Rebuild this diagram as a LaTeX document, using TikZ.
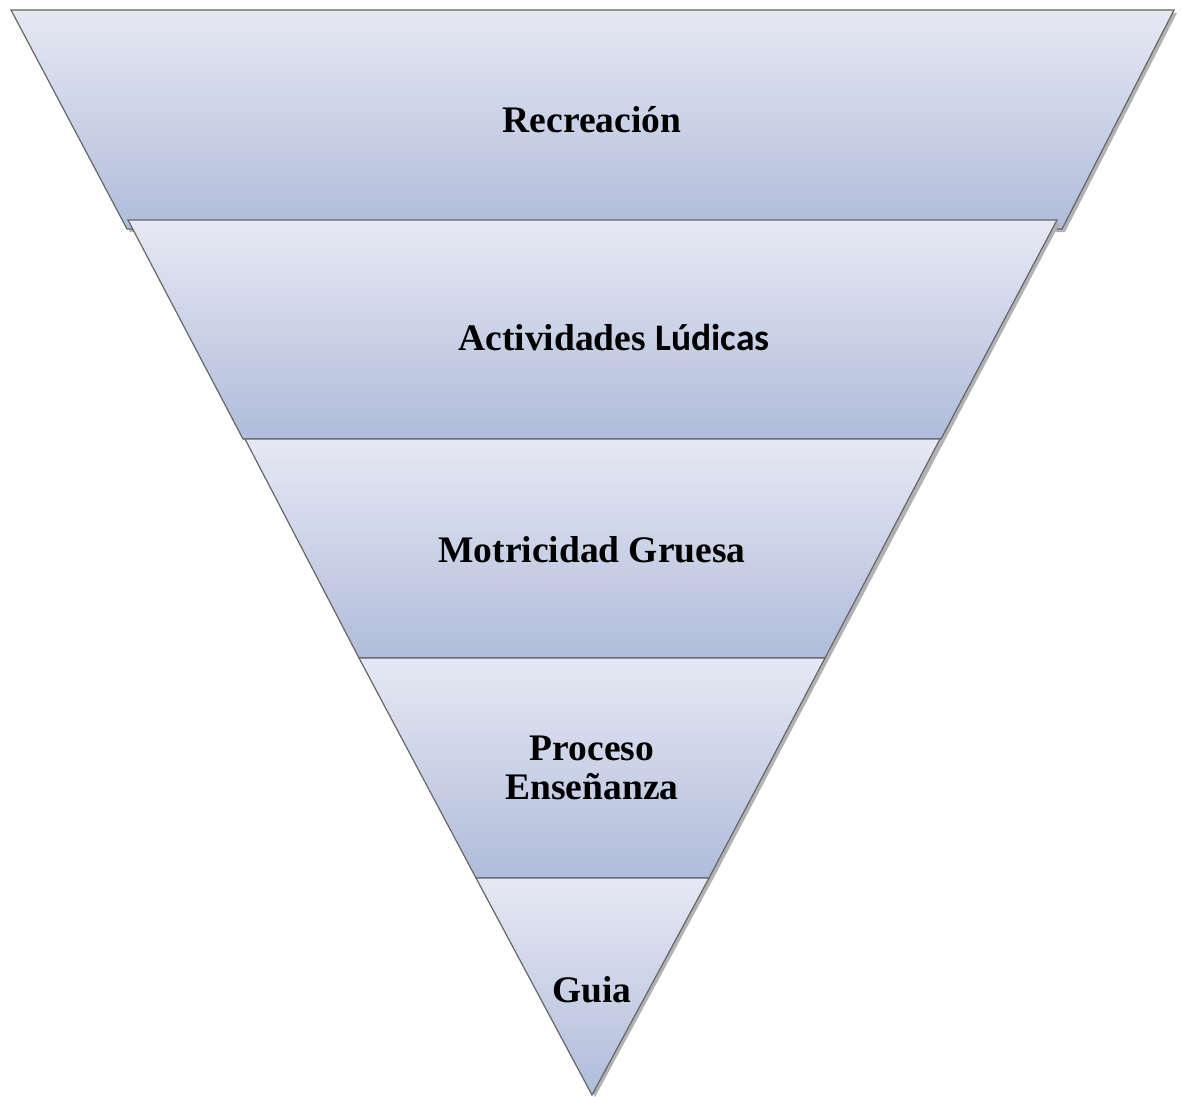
\documentclass[tikz,border=0pt]{standalone}
\usepackage{fontspec}
\setmainfont{Liberation Serif}
\newfontfamily\calib{Carlito}
\tikzset{
  band/.style={draw=black!60, line width=1.2pt, top color=bandtop, bottom color=bandbot, line join=miter},
  shad/.style={fill=black!30, draw=none},
  lbl/.style={font=\fontsize{37.5}{42}\selectfont\bfseries, align=center, text=black}
}
\definecolor{bandtop}{HTML}{E6E9F4}
\definecolor{bandbot}{HTML}{B0BCDA}
\begin{document}
\begin{tikzpicture}[x=1pt,y=-1pt]
\useasboundingbox (0,0) rectangle (1183,1097);
% band 1
\fill[shad] (14,13) -- (1177,13) -- (1065,232) -- (130,232) -- cycle;
\path[band] (11,10) -- (1174,10) -- (1062,229) -- (127,229) -- cycle;
% band 2
\fill[shad] (131,223) -- (1060,223) -- (944,442) -- (246,442) -- cycle;
\path[band] (128,220) -- (1057,220) -- (941,439) -- (243,439) -- cycle;
% band 3
\fill[shad] (248,442) -- (944,442) -- (828,661) -- (362,661) -- cycle;
\path[band] (245,439) -- (940,439) -- (825,658) -- (359,658) -- cycle;
% band 4
\fill[shad] (362,661) -- (828,661) -- (712,881) -- (479,881) -- cycle;
\path[band] (359,658) -- (825,658) -- (709,878) -- (476,878) -- cycle;
% band 5
\fill[shad] (479,881) -- (712,881) -- (595,1097) -- cycle;
\path[band] (476,878) -- (709,878) -- (592,1095) -- cycle;
% labels
\node[lbl] (t1) at (592,120) {Recreación};
\node[lbl] (t2) at (614,338) {Actividades {\calib Lúdicas}};
\node[lbl] (t3) at (592,550) {Motricidad Gruesa};
\node[lbl] (t4) at (592,768) {Proceso\\[-3pt]Enseñanza};
\node[lbl] (t5) at (592,990) {Guia};
\end{tikzpicture}
\end{document}
